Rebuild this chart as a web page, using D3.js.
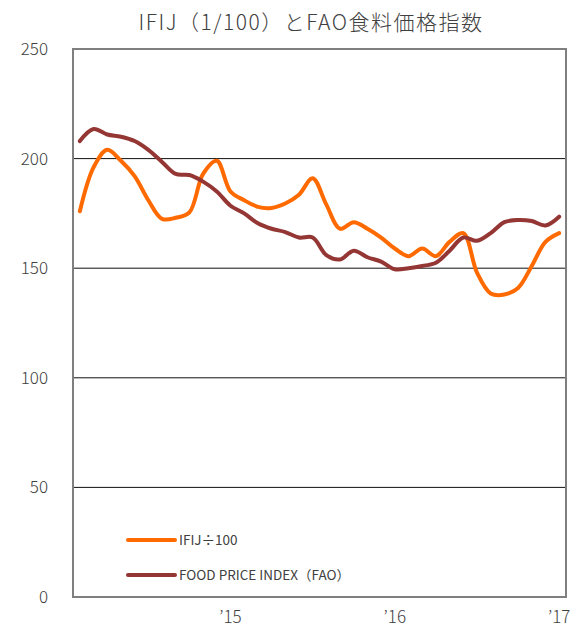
<!DOCTYPE html>
<html>
<head>
<meta charset="utf-8">
<script src="https://cdn.jsdelivr.net/npm/d3@7"></script>
<style>
  body { margin: 0; background: #fff; }
  text { font-family: "Noto Sans CJK JP", "Liberation Sans", sans-serif; fill: #404040; }
</style>
</head>
<body>
<div id="chart"></div>
<script>
// monthly, Feb 2014 - Jan 2017
var months = d3.range(36);
var ifij = [176, 196, 204, 199, 192, 181, 172.5, 173, 175.5, 193, 199, 185,
            181, 178, 177.5, 179.5, 183.5, 191, 179, 168, 171, 168, 164, 159,
            155.5, 159, 155.5, 162, 166, 148, 138.5, 138, 141, 151, 162, 166];
var fao = [208, 213.5, 211, 210, 208, 204, 198.5, 193, 192.5, 189.5, 185, 178.5,
           175, 170.5, 168, 166.5, 164, 164, 156, 154, 158, 155, 153, 149.5,
           150, 151, 152.5, 158, 164, 162.5, 166, 171, 172, 171.5, 169.5, 173.5];
var yTicks = [0, 50, 100, 150, 200, 250];
var xTickIdx = [11, 23, 35];
var xTickLabels = ["\u201915", "\u201916", "\u201917"];
var seriesNames = ["IFIJ\u00f7100", "FOOD PRICE INDEX\uff08FAO\uff09"];
var colors = ["#ff6a00", "#943634"];

var width = 580, height = 631;
var padding = {left: 73, right: 14, top: 49, bottom: 34};

var svg = d3.select("#chart")
            .append("svg")
              .attr("width", width)
              .attr("height", height);

var xScale = d3.scaleBand()
               .domain(months)
               .range([padding.left, width - padding.right]);
var xPos = i => xScale(i) + xScale.bandwidth() / 2;

var yScale = d3.scaleLinear()
               .domain([0, 250])
               .range([height - padding.bottom, padding.top]);

svg.append("text")
   .attr("x", 311)
   .attr("y", 30)
   .attr("text-anchor", "middle")
   .style("font-size", "21px")
   .style("letter-spacing", "1.5px")
   .style("font-weight", "300")
   .text("IFIJ\uff081/100\uff09\u3068FAO\u98df\u6599\u4fa1\u683c\u6307\u6570");

// gridlines
svg.selectAll(".grid")
   .data(yTicks.filter(d => d > 0 && d < 250))
   .enter()
   .append("line")
     .attr("class", "grid")
     .attr("x1", padding.left)
     .attr("x2", width - padding.right)
     .attr("y1", d => yScale(d))
     .attr("y2", d => yScale(d))
     .attr("stroke", "#111")
     .attr("stroke-width", 1);

// frame
svg.append("rect")
   .attr("x", padding.left)
   .attr("y", padding.top)
   .attr("width", width - padding.left - padding.right)
   .attr("height", height - padding.top - padding.bottom)
   .attr("fill", "none")
   .attr("stroke", "#7f7f7f")
   .attr("stroke-width", 2);

var yAxis = svg.append("g")
               .attr("transform", "translate(" + 48 + ",0)")
               .call(d3.axisLeft(yScale).tickValues(yTicks).tickSize(0).tickPadding(0));
yAxis.select(".domain").remove();
yAxis.selectAll("text").style("font-size", "17px").style("font-weight", "300").attr("fill", "#404040");

var xAxis = svg.append("g")
               .attr("transform", "translate(0," + (height - padding.bottom + 14) + ")")
               .call(d3.axisBottom(xScale)
                       .tickValues(xTickIdx)
                       .tickFormat((d, i) => xTickLabels[i])
                       .tickSize(0).tickPadding(0));
xAxis.select(".domain").remove();
xAxis.selectAll("text").style("font-size", "17px").style("font-weight", "300").attr("fill", "#404040");

var line = d3.line()
             .x((d, i) => xPos(i))
             .y(d => yScale(d))
             .curve(d3.curveCatmullRom.alpha(0.5));

[ifij, fao].forEach(function(series, k) {
  svg.append("path")
     .datum(series)
     .attr("fill", "none")
     .attr("stroke", colors[k])
     .attr("stroke-width", 4)
     .attr("stroke-linejoin", "round")
     .attr("stroke-linecap", "round")
     .attr("d", line);
});

// legend
var legend = svg.selectAll(".legend")
                .data(seriesNames)
                .enter()
                .append("g")
                  .attr("class", "legend")
                  .attr("transform", (d, i) => "translate(128," + (540 + i * 35) + ")");
legend.append("line")
      .attr("x1", 0).attr("x2", 47)
      .attr("stroke", (d, i) => colors[i])
      .attr("stroke-width", 4)
      .attr("stroke-linecap", "round");
legend.append("text")
      .attr("x", 51)
      .attr("y", 5)
      .style("font-size", "13.5px")
      .attr("fill", "#222")
      .text(d => d);
</script>
</body>
</html>
